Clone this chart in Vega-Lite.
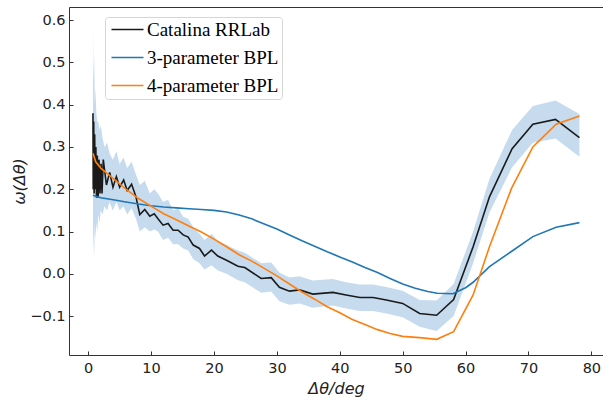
{
  "$schema": "https://vega.github.io/schema/vega-lite/v6.json",
  "width": 534,
  "height": 348,
  "autosize": {"type": "none"},
  "padding": {"left": 69, "top": 7, "right": 0, "bottom": 42},
  "config": {
    "view": {"stroke": "#333333", "strokeWidth": 1},
    "axis": {
      "domain": false,
      "grid": false,
      "tickSize": -4,
      "tickColor": "#333333",
      "tickWidth": 1,
      "labelFont": "DejaVu Sans",
      "labelFontSize": 14.5,
      "labelColor": "#222222",
      "titleFont": "DejaVu Sans",
      "titleFontStyle": "italic",
      "titleFontWeight": "normal",
      "titleFontSize": 16,
      "titleColor": "#222222"
    },
    "legend": {
      "orient": "none",
      "legendX": 36,
      "legendY": 10,
      "symbolType": "M-2,0H2",
      "symbolSize": 256,
      "symbolStrokeWidth": 1.6,
      "symbolOffset": 10,
      "labelFont": "Liberation Serif",
      "labelFontSize": 19,
      "labelColor": "#000000",
      "labelOffset": 10,
      "padding": 3,
      "rowPadding": 8,
      "strokeColor": "#d6d6d6",
      "fillColor": "rgba(255,255,255,0.8)",
      "cornerRadius": 3
    }
  },
  "datasets": {
    "band": [
      {"x": 0.76, "lo": 0.03, "hi": 0.59},
      {"x": 0.85, "lo": 0.10, "hi": 0.45},
      {"x": 0.95, "lo": 0.04, "hi": 0.52},
      {"x": 1.05, "lo": 0.12, "hi": 0.40},
      {"x": 1.15, "lo": 0.08, "hi": 0.44},
      {"x": 1.3, "lo": 0.12, "hi": 0.38},
      {"x": 1.45, "lo": 0.10, "hi": 0.36},
      {"x": 1.6, "lo": 0.14, "hi": 0.36},
      {"x": 1.8, "lo": 0.12, "hi": 0.34},
      {"x": 2.0, "lo": 0.15, "hi": 0.35},
      {"x": 2.3, "lo": 0.14, "hi": 0.32},
      {"x": 2.6, "lo": 0.16, "hi": 0.30},
      {"x": 3.0, "lo": 0.15, "hi": 0.31},
      {"x": 3.4, "lo": 0.17, "hi": 0.285},
      {"x": 3.9, "lo": 0.15, "hi": 0.27},
      {"x": 4.5, "lo": 0.17, "hi": 0.29},
      {"x": 5.0, "lo": 0.15, "hi": 0.26},
      {"x": 5.6, "lo": 0.16, "hi": 0.275},
      {"x": 6.2, "lo": 0.14, "hi": 0.25},
      {"x": 6.9, "lo": 0.155, "hi": 0.265},
      {"x": 7.6, "lo": 0.13, "hi": 0.235},
      {"x": 8.2, "lo": 0.10, "hi": 0.21},
      {"x": 9.0, "lo": 0.11, "hi": 0.22},
      {"x": 9.8, "lo": 0.10, "hi": 0.19},
      {"x": 10.5, "lo": 0.105, "hi": 0.20},
      {"x": 11.1, "lo": 0.10, "hi": 0.19},
      {"x": 11.9, "lo": 0.08, "hi": 0.17},
      {"x": 12.7, "lo": 0.085, "hi": 0.175},
      {"x": 13.5, "lo": 0.07, "hi": 0.15},
      {"x": 14.3, "lo": 0.07, "hi": 0.155},
      {"x": 15.1, "lo": 0.06, "hi": 0.135},
      {"x": 15.9, "lo": 0.055, "hi": 0.13},
      {"x": 16.7, "lo": 0.035, "hi": 0.11},
      {"x": 17.7, "lo": 0.025, "hi": 0.095},
      {"x": 18.5, "lo": 0.01, "hi": 0.08},
      {"x": 19.6, "lo": 0.02, "hi": 0.095},
      {"x": 20.6, "lo": 0.008, "hi": 0.078},
      {"x": 22.0, "lo": 0.0, "hi": 0.068},
      {"x": 23.8, "lo": -0.015, "hi": 0.055},
      {"x": 24.9, "lo": -0.02, "hi": 0.05},
      {"x": 27.5, "lo": -0.045, "hi": 0.025},
      {"x": 29.1, "lo": -0.042, "hi": 0.027},
      {"x": 30.4, "lo": -0.065, "hi": 0.003},
      {"x": 32.0, "lo": -0.073, "hi": -0.009},
      {"x": 33.6, "lo": -0.07, "hi": -0.006},
      {"x": 35.7, "lo": -0.08, "hi": -0.016},
      {"x": 38.9, "lo": -0.075, "hi": -0.012},
      {"x": 41.0, "lo": -0.082, "hi": -0.02},
      {"x": 43.2, "lo": -0.088, "hi": -0.025},
      {"x": 45.3, "lo": -0.088, "hi": -0.025},
      {"x": 47.4, "lo": -0.094, "hi": -0.031},
      {"x": 50.0, "lo": -0.103, "hi": -0.04},
      {"x": 52.7, "lo": -0.125, "hi": -0.062},
      {"x": 55.4, "lo": -0.135, "hi": -0.063},
      {"x": 58.1, "lo": -0.10, "hi": -0.024},
      {"x": 61.2, "lo": 0.025, "hi": 0.10},
      {"x": 63.8, "lo": 0.145, "hi": 0.225},
      {"x": 67.4, "lo": 0.252, "hi": 0.34},
      {"x": 70.7, "lo": 0.31, "hi": 0.397},
      {"x": 74.3, "lo": 0.32, "hi": 0.41},
      {"x": 78.1, "lo": 0.277, "hi": 0.378}
    ],
    "lines": [
      {"series": "Catalina RRLab", "x": 0.76, "y": 0.38},
      {"series": "Catalina RRLab", "x": 0.80, "y": 0.20},
      {"series": "Catalina RRLab", "x": 0.88, "y": 0.36},
      {"series": "Catalina RRLab", "x": 0.95, "y": 0.19},
      {"series": "Catalina RRLab", "x": 1.03, "y": 0.33},
      {"series": "Catalina RRLab", "x": 1.12, "y": 0.20},
      {"series": "Catalina RRLab", "x": 1.22, "y": 0.30},
      {"series": "Catalina RRLab", "x": 1.32, "y": 0.18},
      {"series": "Catalina RRLab", "x": 1.45, "y": 0.28},
      {"series": "Catalina RRLab", "x": 1.58, "y": 0.18},
      {"series": "Catalina RRLab", "x": 1.72, "y": 0.27},
      {"series": "Catalina RRLab", "x": 1.88, "y": 0.19},
      {"series": "Catalina RRLab", "x": 2.05, "y": 0.26},
      {"series": "Catalina RRLab", "x": 2.2, "y": 0.19},
      {"series": "Catalina RRLab", "x": 2.4, "y": 0.27},
      {"series": "Catalina RRLab", "x": 2.9, "y": 0.21},
      {"series": "Catalina RRLab", "x": 3.42, "y": 0.24},
      {"series": "Catalina RRLab", "x": 3.94, "y": 0.205},
      {"series": "Catalina RRLab", "x": 4.48, "y": 0.23},
      {"series": "Catalina RRLab", "x": 5.0, "y": 0.205},
      {"series": "Catalina RRLab", "x": 5.64, "y": 0.222},
      {"series": "Catalina RRLab", "x": 6.2, "y": 0.197},
      {"series": "Catalina RRLab", "x": 6.9, "y": 0.212},
      {"series": "Catalina RRLab", "x": 7.6, "y": 0.182},
      {"series": "Catalina RRLab", "x": 8.2, "y": 0.14},
      {"series": "Catalina RRLab", "x": 9.0, "y": 0.152},
      {"series": "Catalina RRLab", "x": 9.8, "y": 0.136},
      {"series": "Catalina RRLab", "x": 10.5, "y": 0.142},
      {"series": "Catalina RRLab", "x": 11.1, "y": 0.13},
      {"series": "Catalina RRLab", "x": 11.9, "y": 0.115},
      {"series": "Catalina RRLab", "x": 12.7, "y": 0.119},
      {"series": "Catalina RRLab", "x": 13.5, "y": 0.103},
      {"series": "Catalina RRLab", "x": 14.3, "y": 0.103},
      {"series": "Catalina RRLab", "x": 15.1, "y": 0.092},
      {"series": "Catalina RRLab", "x": 15.9, "y": 0.087},
      {"series": "Catalina RRLab", "x": 16.7, "y": 0.068},
      {"series": "Catalina RRLab", "x": 17.7, "y": 0.06},
      {"series": "Catalina RRLab", "x": 18.5, "y": 0.042},
      {"series": "Catalina RRLab", "x": 19.6, "y": 0.056},
      {"series": "Catalina RRLab", "x": 20.6, "y": 0.042},
      {"series": "Catalina RRLab", "x": 22.0, "y": 0.032},
      {"series": "Catalina RRLab", "x": 23.8, "y": 0.018},
      {"series": "Catalina RRLab", "x": 24.9, "y": 0.015},
      {"series": "Catalina RRLab", "x": 27.5, "y": -0.011},
      {"series": "Catalina RRLab", "x": 29.1, "y": -0.009},
      {"series": "Catalina RRLab", "x": 30.4, "y": -0.032},
      {"series": "Catalina RRLab", "x": 32.0, "y": -0.041},
      {"series": "Catalina RRLab", "x": 33.6, "y": -0.038},
      {"series": "Catalina RRLab", "x": 35.7, "y": -0.048},
      {"series": "Catalina RRLab", "x": 38.9, "y": -0.044},
      {"series": "Catalina RRLab", "x": 41.0, "y": -0.05},
      {"series": "Catalina RRLab", "x": 43.2, "y": -0.056},
      {"series": "Catalina RRLab", "x": 45.3, "y": -0.056},
      {"series": "Catalina RRLab", "x": 47.4, "y": -0.062},
      {"series": "Catalina RRLab", "x": 50.0, "y": -0.07},
      {"series": "Catalina RRLab", "x": 52.7, "y": -0.094},
      {"series": "Catalina RRLab", "x": 55.4, "y": -0.098},
      {"series": "Catalina RRLab", "x": 58.1, "y": -0.061},
      {"series": "Catalina RRLab", "x": 61.2, "y": 0.064},
      {"series": "Catalina RRLab", "x": 63.8, "y": 0.182},
      {"series": "Catalina RRLab", "x": 67.4, "y": 0.296},
      {"series": "Catalina RRLab", "x": 70.7, "y": 0.354},
      {"series": "Catalina RRLab", "x": 74.3, "y": 0.365},
      {"series": "Catalina RRLab", "x": 78.1, "y": 0.322},
      {"series": "3-parameter BPL", "x": 0.76, "y": 0.186},
      {"series": "3-parameter BPL", "x": 2.0, "y": 0.18},
      {"series": "3-parameter BPL", "x": 4.0, "y": 0.175},
      {"series": "3-parameter BPL", "x": 6.0, "y": 0.17},
      {"series": "3-parameter BPL", "x": 8.0, "y": 0.165},
      {"series": "3-parameter BPL", "x": 10.0, "y": 0.161},
      {"series": "3-parameter BPL", "x": 12.0, "y": 0.158},
      {"series": "3-parameter BPL", "x": 14.0, "y": 0.156},
      {"series": "3-parameter BPL", "x": 16.0, "y": 0.154},
      {"series": "3-parameter BPL", "x": 18.0, "y": 0.152},
      {"series": "3-parameter BPL", "x": 20.0, "y": 0.15},
      {"series": "3-parameter BPL", "x": 22.0, "y": 0.146},
      {"series": "3-parameter BPL", "x": 24.0, "y": 0.139},
      {"series": "3-parameter BPL", "x": 26.0, "y": 0.13},
      {"series": "3-parameter BPL", "x": 28.0, "y": 0.118},
      {"series": "3-parameter BPL", "x": 30.0, "y": 0.106},
      {"series": "3-parameter BPL", "x": 32.0, "y": 0.092},
      {"series": "3-parameter BPL", "x": 34.0, "y": 0.078},
      {"series": "3-parameter BPL", "x": 36.0, "y": 0.065},
      {"series": "3-parameter BPL", "x": 38.0, "y": 0.052},
      {"series": "3-parameter BPL", "x": 40.0, "y": 0.04},
      {"series": "3-parameter BPL", "x": 42.0, "y": 0.028},
      {"series": "3-parameter BPL", "x": 44.0, "y": 0.015},
      {"series": "3-parameter BPL", "x": 46.0, "y": 0.003},
      {"series": "3-parameter BPL", "x": 48.0, "y": -0.011},
      {"series": "3-parameter BPL", "x": 50.0, "y": -0.024},
      {"series": "3-parameter BPL", "x": 52.0, "y": -0.034},
      {"series": "3-parameter BPL", "x": 54.0, "y": -0.042},
      {"series": "3-parameter BPL", "x": 55.5, "y": -0.046},
      {"series": "3-parameter BPL", "x": 58.0, "y": -0.047},
      {"series": "3-parameter BPL", "x": 60.0, "y": -0.033},
      {"series": "3-parameter BPL", "x": 61.2, "y": -0.02},
      {"series": "3-parameter BPL", "x": 63.8, "y": 0.017},
      {"series": "3-parameter BPL", "x": 67.4, "y": 0.054},
      {"series": "3-parameter BPL", "x": 70.7, "y": 0.088},
      {"series": "3-parameter BPL", "x": 74.4, "y": 0.11},
      {"series": "3-parameter BPL", "x": 78.1, "y": 0.121},
      {"series": "4-parameter BPL", "x": 0.76, "y": 0.285},
      {"series": "4-parameter BPL", "x": 1.2, "y": 0.265},
      {"series": "4-parameter BPL", "x": 2.0, "y": 0.25},
      {"series": "4-parameter BPL", "x": 4.0, "y": 0.225},
      {"series": "4-parameter BPL", "x": 6.0, "y": 0.2},
      {"series": "4-parameter BPL", "x": 8.0, "y": 0.178},
      {"series": "4-parameter BPL", "x": 10.0, "y": 0.16},
      {"series": "4-parameter BPL", "x": 12.0, "y": 0.142},
      {"series": "4-parameter BPL", "x": 14.0, "y": 0.128},
      {"series": "4-parameter BPL", "x": 16.0, "y": 0.113},
      {"series": "4-parameter BPL", "x": 18.0, "y": 0.099},
      {"series": "4-parameter BPL", "x": 20.0, "y": 0.082},
      {"series": "4-parameter BPL", "x": 22.0, "y": 0.064},
      {"series": "4-parameter BPL", "x": 24.0, "y": 0.045},
      {"series": "4-parameter BPL", "x": 26.0, "y": 0.03},
      {"series": "4-parameter BPL", "x": 28.0, "y": 0.013},
      {"series": "4-parameter BPL", "x": 30.0, "y": -0.005},
      {"series": "4-parameter BPL", "x": 32.0, "y": -0.024},
      {"series": "4-parameter BPL", "x": 34.0, "y": -0.043},
      {"series": "4-parameter BPL", "x": 36.0, "y": -0.06},
      {"series": "4-parameter BPL", "x": 38.0, "y": -0.078},
      {"series": "4-parameter BPL", "x": 40.0, "y": -0.092},
      {"series": "4-parameter BPL", "x": 42.0, "y": -0.108},
      {"series": "4-parameter BPL", "x": 44.0, "y": -0.12},
      {"series": "4-parameter BPL", "x": 46.0, "y": -0.132},
      {"series": "4-parameter BPL", "x": 48.0, "y": -0.141},
      {"series": "4-parameter BPL", "x": 50.0, "y": -0.148},
      {"series": "4-parameter BPL", "x": 52.7, "y": -0.151},
      {"series": "4-parameter BPL", "x": 55.4, "y": -0.155},
      {"series": "4-parameter BPL", "x": 58.1, "y": -0.137},
      {"series": "4-parameter BPL", "x": 61.2, "y": -0.05},
      {"series": "4-parameter BPL", "x": 63.8, "y": 0.064},
      {"series": "4-parameter BPL", "x": 67.3, "y": 0.202},
      {"series": "4-parameter BPL", "x": 70.7, "y": 0.3},
      {"series": "4-parameter BPL", "x": 74.4, "y": 0.354},
      {"series": "4-parameter BPL", "x": 78.1, "y": 0.373}
    ]
  },
  "encoding": {
    "x": {
      "field": "x",
      "type": "quantitative",
      "scale": {"domain": [-3.05, 81.85], "nice": false, "zero": false},
      "axis": {"values": [0, 10, 20, 30, 40, 50, 60, 70, 80], "labelPadding": 10, "title": "Δθ/deg", "titlePadding": 6}
    }
  },
  "layer": [
    {
      "data": {"name": "band"},
      "mark": {"type": "area", "color": "#c6dbee", "opacity": 1},
      "encoding": {
        "y": {
          "field": "lo",
          "type": "quantitative",
          "scale": {"domain": [-0.192, 0.631], "nice": false, "zero": false},
          "axis": {"values": [-0.1, 0, 0.1, 0.2, 0.3, 0.4, 0.5, 0.6], "format": ".1f", "labelPadding": 8, "title": "ω(Δθ)", "titlePadding": 2}
        },
        "y2": {"field": "hi"}
      }
    },
    {
      "data": {"name": "lines"},
      "mark": {"type": "line", "strokeWidth": 1.6},
      "encoding": {
        "y": {"field": "y", "type": "quantitative"},
        "color": {
          "field": "series",
          "type": "nominal",
          "scale": {
            "domain": ["Catalina RRLab", "3-parameter BPL", "4-parameter BPL"],
            "range": ["#1a1a1a", "#1f77b4", "#ff7f0e"]
          },
          "legend": {"title": null}
        }
      }
    }
  ]
}
